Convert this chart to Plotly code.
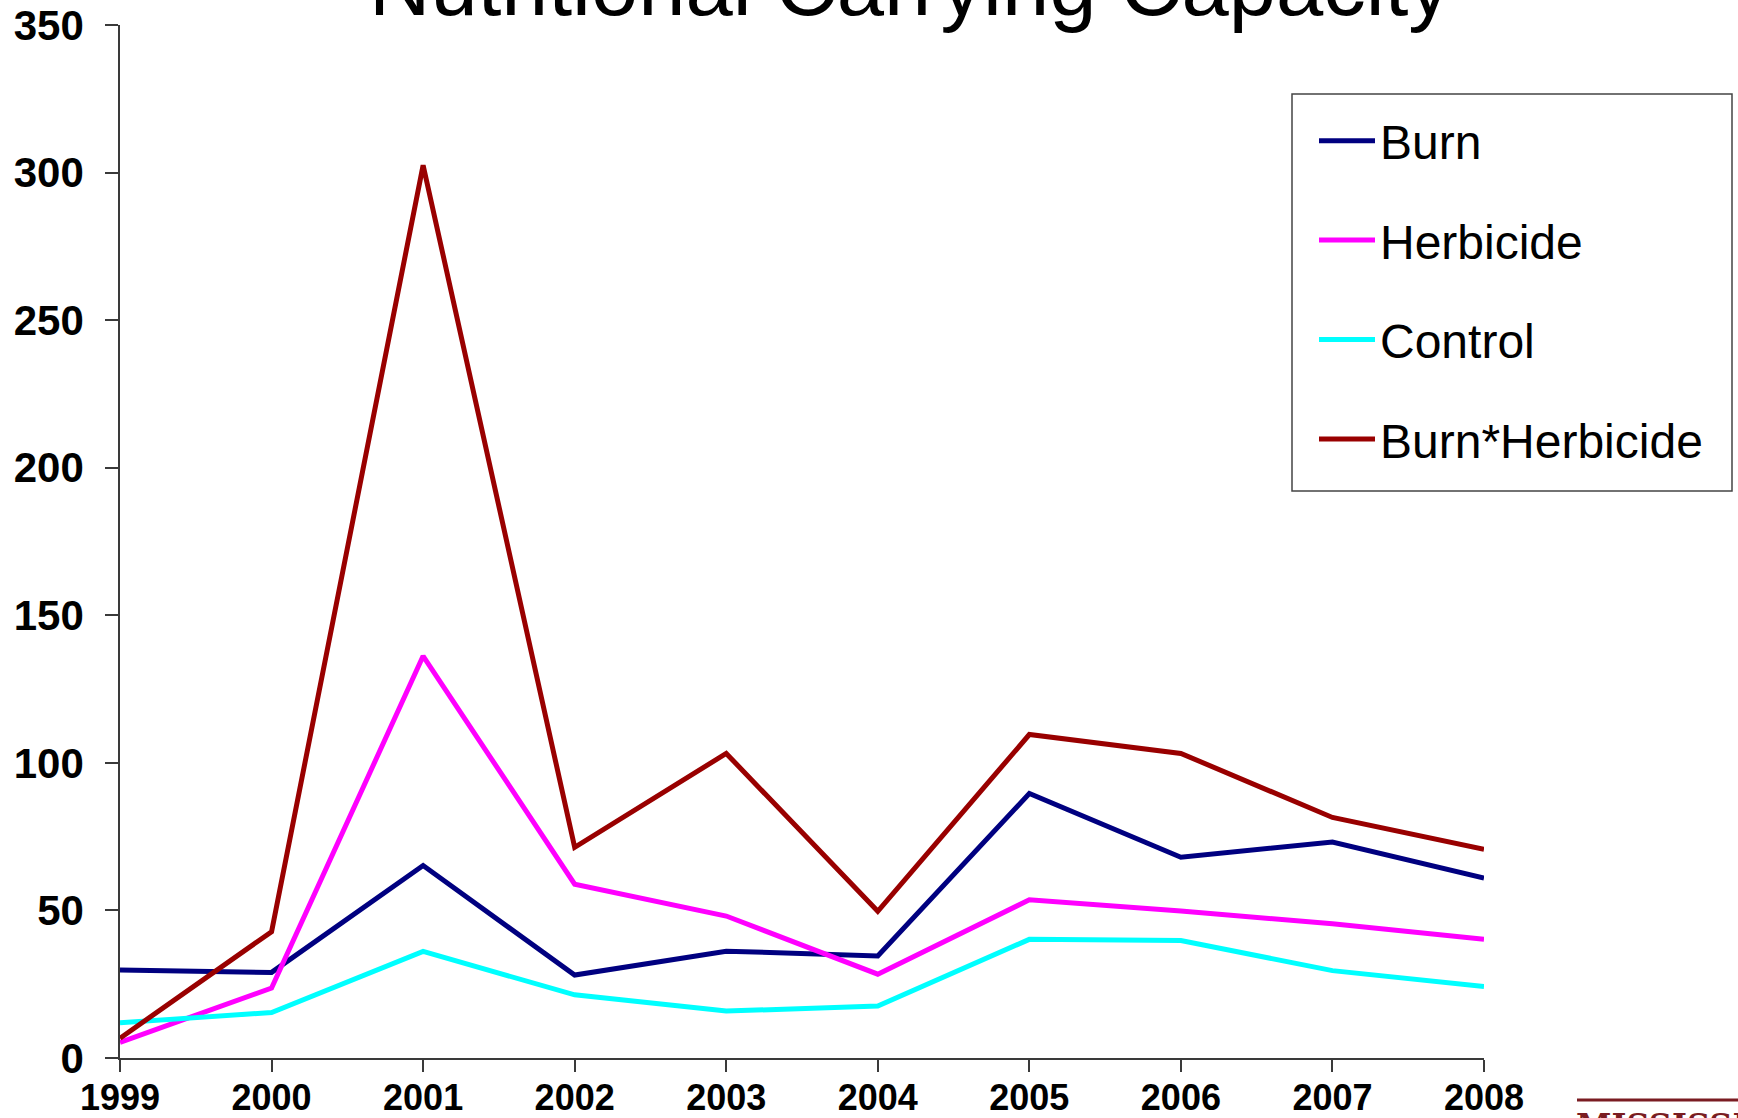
import plotly.graph_objects as go

# Nutritional carrying capacity by treatment, 1999-2008
years = [1999, 2000, 2001, 2002, 2003, 2004, 2005, 2006, 2007, 2008]
burn = [29.8, 29.0, 65.2, 28.1, 36.2, 34.6, 89.6, 68.0, 73.2, 61.0]
herbicide = [5.3, 23.7, 136.2, 58.9, 48.1, 28.4, 53.6, 49.8, 45.5, 40.2]
control = [11.9, 15.4, 36.1, 21.4, 15.9, 17.6, 40.2, 39.8, 29.6, 24.2]
burn_herbicide = [6.7, 42.8, 302.5, 71.4, 103.2, 49.7, 109.6, 103.2, 81.5, 70.7]

series_names = ["Burn", "Herbicide", "Control", "Burn*Herbicide"]
series_values = [burn, herbicide, control, burn_herbicide]
series_colors = ["#000080", "#FF00FF", "#00FFFF", "#990000"]

y_ticks = [0, 50, 100, 150, 200, 250, 300, 350]

W, H = 1738, 1118
L, R, T, B = 120, 254, 25, 60
PW, PH = W - L - R, H - T - B


def px_x(x):
    return (x - L) / PW


def px_y(y):
    return (H - B - y) / PH


fig = go.Figure()
for name, vals, col in zip(series_names, series_values, series_colors):
    fig.add_trace(go.Scatter(
        x=years, y=vals, name=name, mode="lines",
        line=dict(color=col, width=5),
        legendgroup=name,
    ))

axis_col = "#3a3a3a"
fig.update_layout(
    width=W, height=H,
    margin=dict(l=L, r=R, t=T, b=B, autoexpand=False),
    paper_bgcolor="white", plot_bgcolor="white",
    font=dict(family="Liberation Sans, Arial, sans-serif", color="black"),
    showlegend=True,
    legend=dict(
        x=px_x(1314), y=px_y(103), xanchor="left", yanchor="top",
        xref="paper", yref="paper",
        font=dict(size=48, family="Liberation Sans, Arial, sans-serif"),
        bgcolor="rgba(0,0,0,0)", borderwidth=0,
        traceorder="grouped", tracegroupgap=34, itemwidth=56,
    ),
    xaxis=dict(
        range=[1999, 2008], tickvals=years, ticktext=[str(y) for y in years],
        showgrid=False, zeroline=False, showline=True, linecolor=axis_col, linewidth=1.5,
        ticks="outside", ticklen=12, tickwidth=1.5, tickcolor=axis_col,
        tickfont=dict(size=36, family="Liberation Sans, Arial, sans-serif", weight="bold"),
        ticklabelstandoff=-5,
    ),
    yaxis=dict(
        range=[0, 350], tickvals=y_ticks,
        showgrid=False, zeroline=False, showline=True, linecolor=axis_col, linewidth=1.5,
        ticks="outside", ticklen=13, tickwidth=1.5, tickcolor=axis_col,
        tickfont=dict(size=42, family="Liberation Sans, Arial, sans-serif", weight="bold"),
        ticklabelstandoff=13,
    ),
    shapes=[
        # legend frame
        dict(type="rect", xref="paper", yref="paper",
             x0=px_x(1292), x1=px_x(1732), y0=px_y(491), y1=px_y(94),
             line=dict(color="#444444", width=1.5), fillcolor="rgba(0,0,0,0)"),
        # logo rule
        dict(type="line", xref="paper", yref="paper",
             x0=px_x(1577), x1=px_x(1745), y0=px_y(1100), y1=px_y(1100),
             line=dict(color="#7a1c22", width=3)),
    ],
    annotations=[
        dict(text="Nutritional Carrying Capacity", xref="paper", yref="paper",
             x=px_x(910), y=px_y(-14), xanchor="center", yanchor="middle",
             showarrow=False,
             font=dict(size=85, family="Liberation Sans, Arial, sans-serif", color="black")),
        dict(text="MISSISSIPPI STATE", xref="paper", yref="paper",
             x=px_x(1574), y=px_y(1104), xanchor="left", yanchor="top",
             showarrow=False,
             font=dict(size=32, family="DejaVu Serif, serif", color="#7a1c22", weight="bold")),
    ],
)

fig.write_html("out.html")
